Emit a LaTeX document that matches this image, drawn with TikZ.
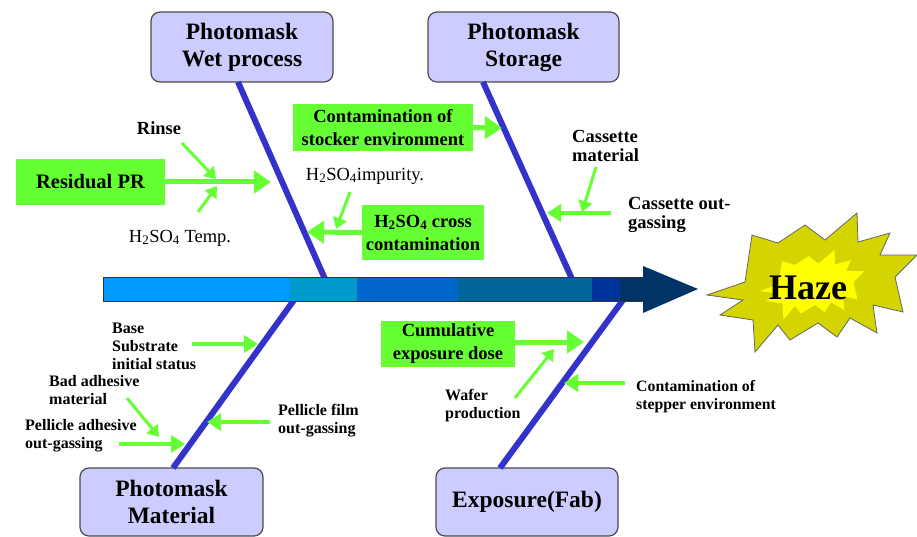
\documentclass[tikz,border=0pt]{standalone}
\usepackage{fontspec}
\setmainfont{Liberation Serif}
\usetikzlibrary{arrows.meta}
\definecolor{boxfill}{HTML}{CCCCFF}
\definecolor{bonec}{HTML}{3333CC}
\definecolor{grn}{HTML}{66FF33}
\definecolor{spA}{HTML}{0099FF}
\definecolor{spB}{HTML}{0099CC}
\definecolor{spC}{HTML}{0066CC}
\definecolor{spD}{HTML}{006699}
\definecolor{spE}{HTML}{003399}
\definecolor{spF}{HTML}{003366}
\definecolor{starout}{HTML}{D4D400}
\definecolor{starin}{HTML}{FFFF00}
\tikzset{
  catbox/.style={draw=black!70, fill=boxfill, rounded corners=9pt, line width=1.2pt,
    align=center, inner sep=0pt, font=\fontsize{23.5}{27}\selectfont\bfseries},
  gbox/.style={fill=grn, inner sep=0pt, align=center, font=\fontsize{18.5}{23}\selectfont\bfseries},
  lbl/.style={inner sep=0pt, align=left, font=\fontsize{18.5}{19.5}\selectfont\bfseries},
  slbl/.style={inner sep=0pt, align=left, font=\fontsize{16}{18}\selectfont\bfseries},
  rlbl/.style={inner sep=0pt, align=left, font=\fontsize{18.5}{20}\selectfont},
  bone/.style={draw=bonec, line width=6pt},
  bigarrow/.style={draw=grn, line width=5pt, -{Triangle[length=17pt,width=22pt]}},
  medarrow/.style={draw=grn, line width=3.5pt, -{Triangle[length=14pt,width=17pt]}},
  thinarrow/.style={draw=grn, line width=3pt, -{Triangle[length=11pt,width=14pt]}},
}
\begin{document}
\begin{tikzpicture}[x=1pt,y=-1pt]
\useasboundingbox (0,0) rectangle (917,537);

% category boxes
\node[catbox, minimum width=182pt, minimum height=70pt] (wet) at (242,47) {Photomask\\Wet process};
\node[catbox, minimum width=191pt, minimum height=70pt] (sto) at (523.5,47) {Photomask\\Storage};
\node[catbox, minimum width=183pt, minimum height=68pt] (mat) at (171.5,502) {Photomask\\Material};
\node[catbox, minimum width=182pt, minimum height=68pt] (exp) at (527,502) {Exposure(Fab)};

% bones
\coordinate (wtop) at (238,82);   \coordinate (wend) at (325,279);
\coordinate (stop) at (483,82);   \coordinate (send) at (572,279);
\coordinate (mtop) at (294,300);  \coordinate (mend) at (173,468);
\coordinate (etop) at (623,300);  \coordinate (eend) at (500,468);
\draw[bone] (wtop) -- (wend);
\draw[bone] (stop) -- (send);
\draw[bone] (mtop) -- (mend);
\draw[bone] (etop) -- (eend);

% spine
\fill[spA] (103,277) rectangle (290,301);
\fill[spB] (290,277) rectangle (357,301);
\fill[spC] (357,277) rectangle (458,301);
\fill[spD] (458,277) rectangle (592,301);
\fill[spE] (592,277) rectangle (620,301);
\fill[spF] (620,277) rectangle (644,301);
\draw[black!80, line width=0.9pt] (644,277) -- (103,277) -- (103,301) -- (644,301);
\fill[spF] (643,266) -- (698,289) -- (643,313) -- cycle;
\coordinate (spinetip) at (698,289);

% star
\def\starpath{(707,295) -- (745,282) -- (752,235) -- (778,243) -- (805,225) -- (825,240) -- (857,213) -- (858,242) -- (890,233) -- (880,255) -- (917,255) -- (895,277) -- (903,312) -- (873,305) -- (877,333) -- (850,318) -- (837,337) -- (818,323) -- (790,340) -- (778,325) -- (755,352) -- (753,320) -- (720,315) -- (743,300) -- cycle}
\filldraw[fill=starout, draw=black!60, line width=0.8pt] \starpath;
\fill[starin, scale around={0.5:(812,287)}] \starpath;
\node[inner sep=0pt, font=\fontsize{36}{40}\selectfont\bfseries] (haze) at (808,288) {Haze};

% green cause boxes
\node[gbox, minimum width=149pt, minimum height=46pt, font=\fontsize{20.5}{24}\selectfont\bfseries] (resid) at (90.5,182) {Residual PR};
\node[gbox, minimum width=180pt, minimum height=47pt] (stock) at (383,127.5) {Contamination of\\stocker environment};
\node[gbox, minimum width=122pt, minimum height=55pt] (cross) at (423,232.5) {H\textsubscript{2}SO\textsubscript{4} cross\\contamination};
\node[gbox, minimum width=134pt, minimum height=46pt] (cumul) at (448,344) {Cumulative\\exposure dose};

% labels
\node[lbl] (rinse) at (159,128) {Rinse};
\node[rlbl] (htemp) at (180,238) {H\textsubscript{2}SO\textsubscript{4} Temp.};
\node[rlbl] (himp) at (365,176) {H\textsubscript{2}SO\textsubscript{4}impurity.};
\node[lbl, anchor=west] (cmat) at (572,146) {Cassette\\material};
\node[lbl, anchor=west] (cout) at (628,215) {Cassette out-\\gassing};
\node[slbl, anchor=west] (base) at (112,346) {Base\\Substrate\\initial status};
\node[slbl, anchor=west] (bad) at (49,390) {Bad adhesive\\material};
\node[slbl, anchor=west] (pad) at (25,436) {Pellicle adhesive\\out-gassing};
\node[slbl, anchor=west] (pfilm) at (278,421) {Pellicle film\\out-gassing};
\node[slbl, anchor=west] (wafer) at (445,406) {Wafer\\production};
\node[slbl, anchor=west, font=\fontsize{15.8}{18}\selectfont\bfseries] (stepenv) at (636,397) {Contamination of\\stepper environment};

% arrow end points
\coordinate (a1e) at (271,182);
\coordinate (a2s) at (182,143); \coordinate (a2e) at (216,179);
\coordinate (a3s) at (198,212); \coordinate (a3e) at (217,186);
\coordinate (a4e) at (502,128);
\coordinate (a5s) at (350,192); \coordinate (a5e) at (336,229);
\coordinate (a6e) at (307,232);
\coordinate (a7s) at (596,167); \coordinate (a7e) at (582,212);
\coordinate (a8s) at (611,213); \coordinate (a8e) at (547,213);
\coordinate (a9s) at (192,344); \coordinate (a9e) at (258,344);
\coordinate (a10s) at (127,398); \coordinate (a10e) at (159,437);
\coordinate (a11s) at (119,444); \coordinate (a11e) at (185,444);
\coordinate (a12s) at (270,422); \coordinate (a12e) at (207,422);
\coordinate (a13e) at (584,342);
\coordinate (a14s) at (515,398); \coordinate (a14e) at (554,349);
\coordinate (a15s) at (625,383); \coordinate (a15e) at (564,383);

% arrows
\draw[bigarrow] (resid.east) -- (a1e);
\draw[thinarrow] (a2s) -- (a2e);
\draw[thinarrow] (a3s) -- (a3e);
\draw[bigarrow] (stock.east) -- (a4e);
\draw[thinarrow] (a5s) -- (a5e);
\draw[bigarrow] (cross.west) -- (a6e);
\draw[thinarrow] (a7s) -- (a7e);
\draw[medarrow] (a8s) -- (a8e);
\draw[medarrow] (a9s) -- (a9e);
\draw[thinarrow] (a10s) -- (a10e);
\draw[medarrow] (a11s) -- (a11e);
\draw[medarrow] (a12s) -- (a12e);
\draw[bigarrow] (cumul.east |- a13e) -- (a13e);
\draw[thinarrow] (a14s) -- (a14e);
\draw[medarrow] (a15s) -- (a15e);
\end{tikzpicture}
\end{document}
